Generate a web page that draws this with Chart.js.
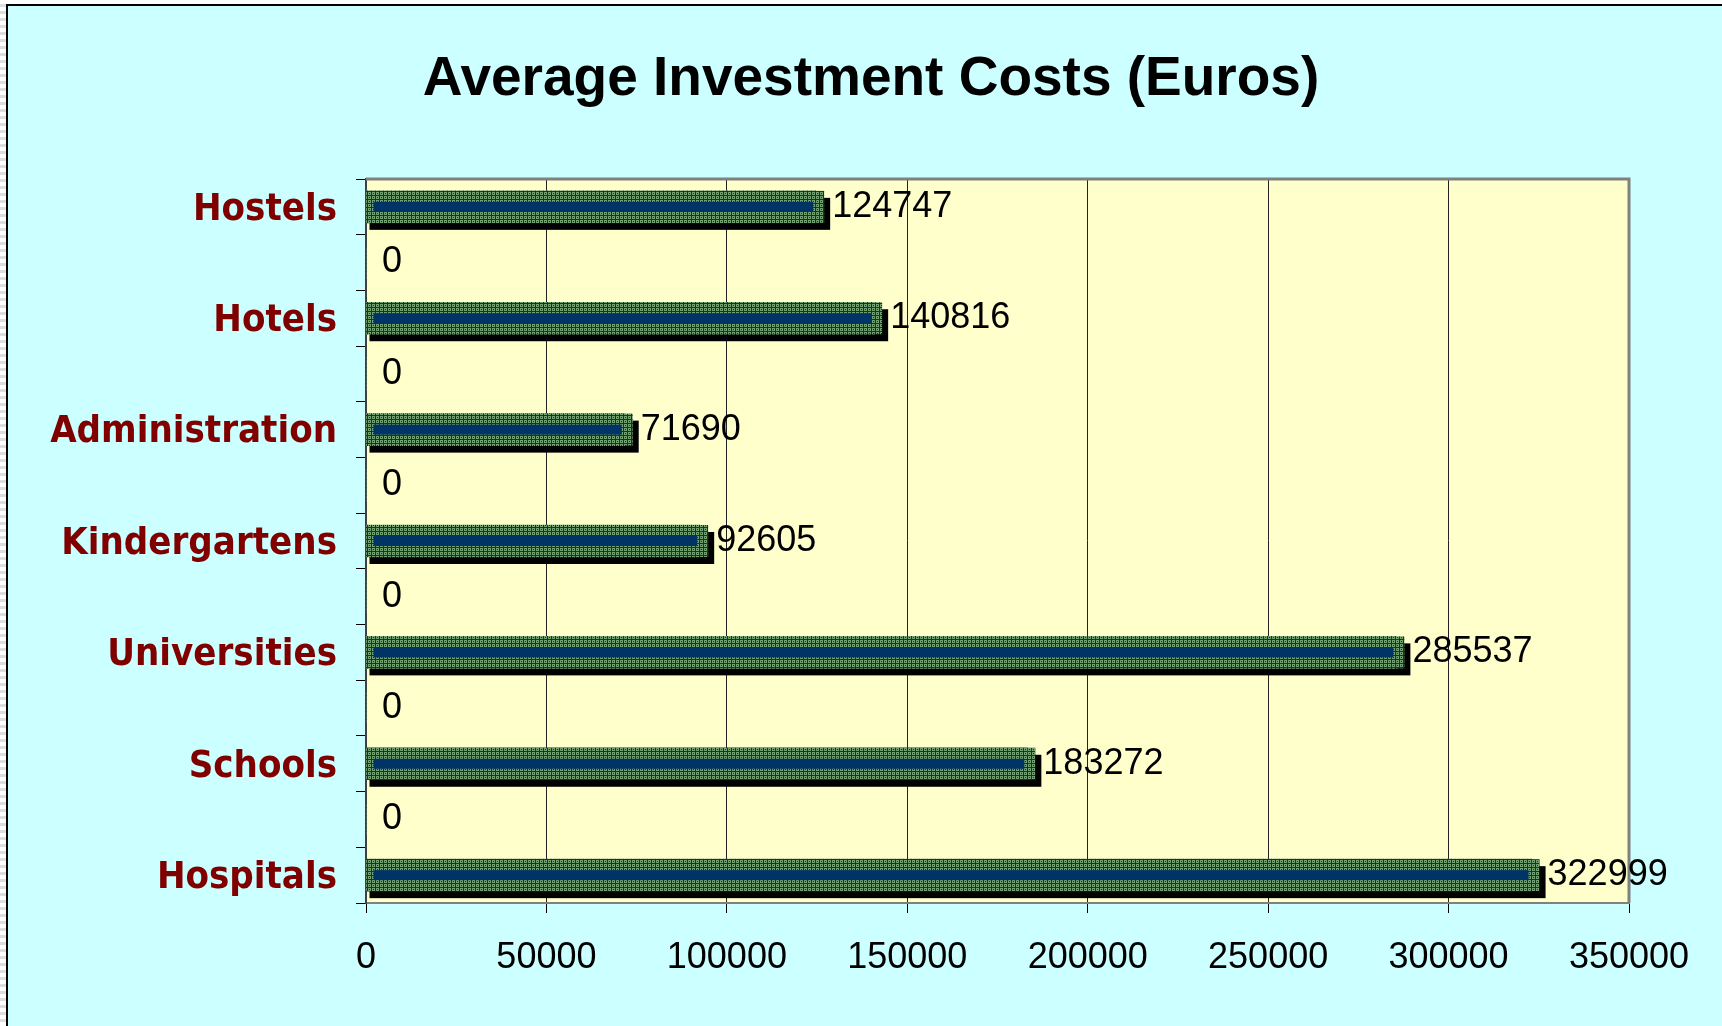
<!DOCTYPE html>
<html>
<head>
<meta charset="utf-8">
<title>Average Investment Costs (Euros)</title>
<script src="https://cdn.jsdelivr.net/npm/chart.js@4.4.1/dist/chart.umd.min.js"></script>
<style>
    html, body { margin: 0; padding: 0; width: 1722px; height: 1026px; overflow: hidden; }
    body { background: repeating-linear-gradient(to bottom, #ffffff 0px, #ffffff 4px, #dedede 4px, #dedede 7px); }
    #frame {
        position: absolute; left: 6px; top: 4px; right: 0; bottom: 0;
        border-left: 2px solid #000; border-top: 2px solid #000;
        background: #ccffff;
    }
    #chart { position: absolute; left: 0; top: 0; }
</style>
</head>
<body>
<div id="frame"></div>
<canvas id="chart" width="1722" height="1026"></canvas>
<script>
const chartTitle = 'Average Investment Costs (Euros)';

// blank rows in the source sheet show up as the "0" categories
const categories = [
    'Hostels', '',
    'Hotels', '',
    'Administration', '',
    'Kindergartens', '',
    'Universities', '',
    'Schools', '',
    'Hospitals',
];

const costs = [
    124747, 0,
    140816, 0,
    71690, 0,
    92605, 0,
    285537, 0,
    183272, 0,
    322999,
];

const xTicks = [0, 50000, 100000, 150000, 200000, 250000, 300000, 350000];

const arial = '"Liberation Sans", Arial, sans-serif';

function makeHatch(ctx) {
    const tile = document.createElement('canvas');
    tile.width = 4;
    tile.height = 4;
    const g = tile.getContext('2d');
    g.fillStyle = '#143a14';
    g.fillRect(0, 0, 4, 4);
    g.fillStyle = '#72a072';
    g.fillRect(0, 0, 3, 1);
    g.fillRect(0, 2, 3, 1);
    g.fillRect(0, 1, 1, 1);
    g.fillRect(2, 1, 1, 1);
    return ctx.createPattern(tile, 'repeat');
}

const ctx = document.getElementById('chart').getContext('2d');
const hatch = makeHatch(ctx);

// excel-ish 3d look: shadow, wider hatched body, navy core, value labels
const barDecor = {
    id: 'barDecor',
    beforeDraw(chart) {
        const a = chart.chartArea;
        const c = chart.ctx;
        c.save();
        c.fillStyle = '#ffffcc';
        c.fillRect(a.left, a.top, a.right - a.left, a.bottom - a.top);
        c.restore();
    },
    beforeDatasetsDraw(chart) {
        const a = chart.chartArea;
        const c = chart.ctx;
        c.save();
        c.strokeStyle = '#808080';
        c.lineWidth = 3;
        c.beginPath();
        c.moveTo(a.left, a.top);
        c.lineTo(a.right, a.top);
        c.lineTo(a.right, a.bottom);
        c.stroke();

        const meta = chart.getDatasetMeta(0);
        c.fillStyle = '#000';
        meta.data.forEach((bar, i) => {
            if (!costs[i]) return;
            const h = bar.height;
            c.fillRect(bar.base + 3, bar.y - h / 2 + 7, bar.x + 14 - bar.base - 3, h);
        });
        c.restore();
    },
    afterDatasetsDraw(chart) {
        const c = chart.ctx;
        const meta = chart.getDatasetMeta(0);
        c.save();
        meta.data.forEach((bar, i) => {
            if (costs[i]) {
                const h = bar.height;
                c.fillStyle = hatch;
                c.fillRect(bar.x, bar.y - h / 2, 8, h);
                c.fillStyle = '#003366';
                c.fillRect(bar.base + 7, bar.y - 5, bar.x - 3 - bar.base - 7, 10);
            }
            c.fillStyle = '#000';
            c.font = `36px ${arial}`;
            c.textAlign = 'left';
            c.textBaseline = 'middle';
            c.fillText(String(costs[i]), bar.x + 16, bar.y);
        });
        c.restore();
    },
    afterDraw(chart) {
        const c = chart.ctx;
        c.save();
        c.fillStyle = '#000';
        c.font = `bold 55px ${arial}`;
        c.textAlign = 'center';
        c.textBaseline = 'alphabetic';
        c.fillText(chartTitle, 871, 95);
        c.restore();
    },
};

const chart = new Chart(ctx, {
    type: 'bar',
    data: {
        labels: categories,
        datasets: [{
            data: costs,
            backgroundColor: hatch,
            borderWidth: 0,
            barThickness: 32,
        }],
    },
    options: {
        responsive: false,
        animation: false,
        indexAxis: 'y',
        layout: {
            padding: { top: 179, right: 93, left: 0, bottom: 0 },
        },
        plugins: {
            legend: { display: false },
            title: { display: false },
            tooltip: { enabled: false },
        },
        scales: {
            x: {
                type: 'linear',
                min: 0,
                max: 350000,
                afterBuildTicks: (scale) => {
                    scale.ticks = xTicks.map(v => ({ value: v }));
                },
                afterFit: (scale) => {
                    scale.height = 123;
                },
                grid: {
                    color: '#222',
                    lineWidth: 1,
                    tickLength: 10,
                    tickColor: '#000',
                },
                border: { color: '#808080', width: 2 },
                ticks: {
                    color: '#000',
                    font: { family: arial, size: 36 },
                    padding: 23,
                    maxRotation: 0,
                    autoSkip: false,
                    callback: (v) => String(v),
                },
            },
            y: {
                type: 'category',
                afterFit: (scale) => {
                    scale.width = 366;
                },
                grid: {
                    drawOnChartArea: false,
                    offset: true,
                    tickLength: 10,
                    tickColor: '#000',
                },
                border: { color: '#404040', width: 2 },
                ticks: {
                    color: '#800000',
                    font: { family: '"DejaVu Sans Condensed", "DejaVu Sans", Verdana, sans-serif', size: 38, weight: 'bold' },
                    padding: 19,
                    labelOffset: 3,
                    autoSkip: false,
                },
            },
        },
    },
    plugins: [barDecor],
});
</script>
</body>
</html>
